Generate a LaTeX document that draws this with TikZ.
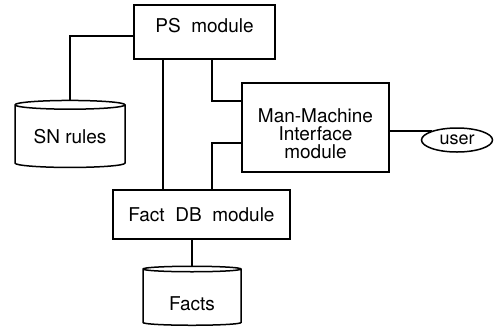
\documentclass[tikz,border=0pt]{standalone}
\usepackage{fontspec}
\setmainfont{TeX Gyre Heros}
\usetikzlibrary{shapes.geometric, positioning}

\begin{document}
\begin{tikzpicture}[x=1pt, y=-1pt, line width=1.5pt,
        module/.style={rectangle, draw, minimum width=#1, align=center, inner sep=0pt, font=\fontsize{19}{18}\selectfont},
        store/.style={cylinder, shape border rotate=90, draw, aspect=0.12, inner sep=0pt, font=\fontsize{19}{18}\selectfont},
        actor/.style={ellipse, draw, inner sep=0pt, minimum width=71pt, minimum height=24pt, font=\fontsize{18}{13}\selectfont}
    ]
        \useasboundingbox (0,0) rectangle (494,330);

        \node[module=141pt, minimum height=54pt] (ps) at (204.5,32) {\rule[-14pt]{0pt}{14pt}PS\ \ module};
        \node[module=147pt, minimum height=89pt] (mmi) at (315.5,127.5) {\rule{0pt}{26pt}Man-Machine\\Interface\\module};
        \node[module=177pt, minimum height=49pt] (fdb) at (201.5,214.5) {Fact\ \ DB\ \ module};
        \node[store, minimum width=110pt, minimum height=67pt] (sn) at (70,136.5) {SN rules};
        \node[store, minimum width=98pt, minimum height=59pt] (facts) at (192,297.5) {\rule{0pt}{26pt}Facts};
        \node[actor] (user) at (457,140) {user};

        % links
        \draw ([yshift=-4pt]ps.west) -| (sn.north);
        \draw ([xshift=-41.5pt]ps.south) -- ([xshift=-41.5pt]ps.south |- fdb.north);
        \draw ([xshift=7.5pt]ps.south) |- ([yshift=26.5pt]mmi.west);
        \draw ([xshift=10.5pt]fdb.north) |- ([yshift=-15.5pt]mmi.west);
        \draw (mmi.east |- user.160) -- (user.160);
        \draw (facts.north |- fdb.south) -- (facts.north);
    \end{tikzpicture}
\end{document}
